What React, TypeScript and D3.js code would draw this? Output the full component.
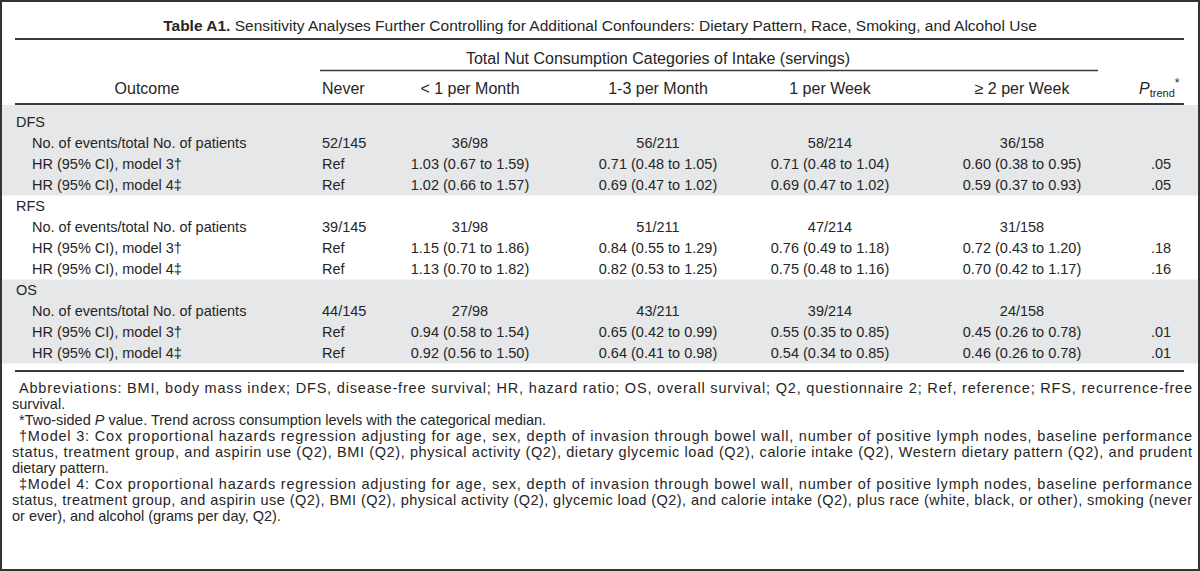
import React from "react";
import * as d3 from "d3";

const categories = ["Never", "< 1 per Month", "1-3 per Month", "1 per Week", "\u2265 2 per Week"];
const outcomes = ["DFS", "RFS", "OS"];
const rowLabels = ["No. of events/total No. of patients", "HR (95% CI), model 3\u2020", "HR (95% CI), model 4\u2021"];

const dfsEvents = ["52/145", "36/98", "56/211", "58/214", "36/158"];
const dfsModel3 = ["Ref", "1.03 (0.67 to 1.59)", "0.71 (0.48 to 1.05)", "0.71 (0.48 to 1.04)", "0.60 (0.38 to 0.95)"];
const dfsModel4 = ["Ref", "1.02 (0.66 to 1.57)", "0.69 (0.47 to 1.02)", "0.69 (0.47 to 1.02)", "0.59 (0.37 to 0.93)"];
const rfsEvents = ["39/145", "31/98", "51/211", "47/214", "31/158"];
const rfsModel3 = ["Ref", "1.15 (0.71 to 1.86)", "0.84 (0.55 to 1.29)", "0.76 (0.49 to 1.18)", "0.72 (0.43 to 1.20)"];
const rfsModel4 = ["Ref", "1.13 (0.70 to 1.82)", "0.82 (0.53 to 1.25)", "0.75 (0.48 to 1.16)", "0.70 (0.42 to 1.17)"];
const osEvents = ["44/145", "27/98", "43/211", "39/214", "24/158"];
const osModel3 = ["Ref", "0.94 (0.58 to 1.54)", "0.65 (0.42 to 0.99)", "0.55 (0.35 to 0.85)", "0.45 (0.26 to 0.78)"];
const osModel4 = ["Ref", "0.92 (0.56 to 1.50)", "0.64 (0.41 to 0.98)", "0.54 (0.34 to 0.85)", "0.46 (0.26 to 0.78)"];
const pTrendModel3 = [".05", ".18", ".01"];
const pTrendModel4 = [".05", ".16", ".01"];

const titleBold = "Table A1.";
const titleRest = " Sensitivity Analyses Further Controlling for Additional Confounders: Dietary Pattern, Race, Smoking, and Alcohol Use";
const spannerText = "Total Nut Consumption Categories of Intake (servings)";

const footnotes = [
  { text: "Abbreviations: BMI, body mass index; DFS, disease-free survival; HR, hazard ratio; OS, overall survival; Q2, questionnaire 2; Ref, reference; RFS, recurrence-free", indent: true, justify: true },
  { text: "survival.", indent: false, justify: false },
  { text: "*Two-sided |P| value. Trend across consumption levels with the categorical median.", indent: true, justify: false },
  { text: "\u2020Model 3: Cox proportional hazards regression adjusting for age, sex, depth of invasion through bowel wall, number of positive lymph nodes, baseline performance", indent: true, justify: true },
  { text: "status, treatment group, and aspirin use (Q2), BMI (Q2), physical activity (Q2), dietary glycemic load (Q2), calorie intake (Q2), Western dietary pattern (Q2), and prudent", indent: false, justify: true },
  { text: "dietary pattern.", indent: false, justify: false },
  { text: "\u2021Model 4: Cox proportional hazards regression adjusting for age, sex, depth of invasion through bowel wall, number of positive lymph nodes, baseline performance", indent: true, justify: true },
  { text: "status, treatment group, and aspirin use (Q2), BMI (Q2), physical activity (Q2), glycemic load (Q2), and calorie intake (Q2), plus race (white, black, or other), smoking (never", indent: false, justify: true },
  { text: "or ever), and alcohol (grams per day, Q2).", indent: false, justify: false },
];

const W = 1200;
const H = 571;
const FONT = "'Liberation Sans', Arial, Helvetica, sans-serif";
const FS = 14.5;
const HFS = 16;
const TEXT = "#262626";
const LINE = "#3a3a3a";
const GRAY = "#e6e7e8";

export default function App() {
  const groups = [
    { name: outcomes[0], rows: [dfsEvents, dfsModel3, dfsModel4], p: ["", pTrendModel3[0], pTrendModel4[0]], shaded: true },
    { name: outcomes[1], rows: [rfsEvents, rfsModel3, rfsModel4], p: ["", pTrendModel3[1], pTrendModel4[1]], shaded: false },
    { name: outcomes[2], rows: [osEvents, osModel3, osModel4], p: ["", pTrendModel3[2], pTrendModel4[2]], shaded: true },
  ];

  // column anchors (Never is left-aligned, the others centred)
  const colX = d3.scaleOrdinal<string, number>().domain(categories).range([322, 470, 658, 830, 1022]);
  const pX = 1161;
  const rowPitch = 21;
  const y = d3.scaleLinear().domain([0, 1]).range([122, 122 + rowPitch]);
  const fy = d3.scaleLinear().domain([0, 1]).range([388, 404]);

  const lineX0 = 15;
  const lineX1 = 1184;
  const thickY = 104;

  const rows: any[] = [];
  groups.forEach((g, gi) => {
    const base = gi * 4;
    rows.push(
      <text key={`g${gi}`} x={16} y={y(base) + 5} fontSize={FS} fill={TEXT}>{g.name}</text>
    );
    g.rows.forEach((vals, ri) => {
      const yy = y(base + 1 + ri) + 5;
      rows.push(<text key={`l${gi}${ri}`} x={32} y={yy} fontSize={FS} fill={TEXT}>{rowLabels[ri]}</text>);
      vals.forEach((v, ci) => {
        const first = ci === 0;
        rows.push(
          <text key={`v${gi}${ri}${ci}`} x={colX(categories[ci])} y={yy} fontSize={FS} fill={TEXT} textAnchor={first ? "start" : "middle"}>{v}</text>
        );
      });
      if (g.p[ri]) rows.push(<text key={`p${gi}${ri}`} x={pX} y={yy} fontSize={FS} fill={TEXT} textAnchor="middle">{g.p[ri]}</text>);
    });
  });

  const bands = groups.map((g, gi) => {
    if (!g.shaded) return null;
    const top = gi === 0 ? thickY + 1 : y(gi * 4) - rowPitch / 2;
    const bottom = y(gi * 4 + 3) + rowPitch / 2;
    return <rect key={`b${gi}`} x={2} y={top} width={W - 4} height={bottom - top} fill={GRAY} />;
  });

  return (
    <div style={{ position: "absolute", left: 0, top: 0 }}>
      <svg width={W} height={H} style={{ display: "block", fontFamily: FONT }}>
        <rect x={0} y={0} width={W} height={H} fill="#fff" />
        {bands}
        <text x={W / 2} y={31} fontSize={15.5} fill={TEXT} textAnchor="middle">
          <tspan fontWeight="bold">{titleBold}</tspan>
          <tspan>{titleRest}</tspan>
        </text>
        <line x1={lineX0} x2={lineX1} y1={39} y2={39} stroke={LINE} strokeWidth={2} />
        <text x={658} y={64} fontSize={HFS} fill={TEXT} textAnchor="middle">{spannerText}</text>
        <line x1={320} x2={1098} y1={70.5} y2={70.5} stroke={LINE} strokeWidth={1.3} />
        <text x={147} y={94} fontSize={HFS} fill={TEXT} textAnchor="middle">Outcome</text>
        {categories.map((c, i) => (
          <text key={c} x={colX(c)} y={94} fontSize={HFS} fill={TEXT} textAnchor={i === 0 ? "start" : "middle"}>{c}</text>
        ))}
        <text x={1139} y={94} fontSize={HFS} fill={TEXT}>
          <tspan fontStyle="italic">P</tspan>
          <tspan fontSize={11} dy={3}>trend</tspan>
          <tspan fontSize={12} dy={-10}>*</tspan>
        </text>
        <line x1={lineX0} x2={lineX1} y1={thickY} y2={thickY} stroke={LINE} strokeWidth={2} />
        {rows}
        <line x1={lineX0} x2={lineX1} y1={371} y2={371} stroke={LINE} strokeWidth={2} />
        {footnotes.map((f, i) => {
          const x0 = f.indent ? 19 : 12;
          const parts = f.text.split("|");
          return (
            <text key={`f${i}`} x={x0} y={fy(i) + 5} fontSize={FS} fill={TEXT}
              textLength={f.justify ? 1192 - x0 : undefined} lengthAdjust={f.justify ? "spacing" : undefined}>
              {parts.map((p, pi) => (
                <tspan key={pi} fontStyle={pi % 2 === 1 ? "italic" : "normal"}>{p}</tspan>
              ))}
            </text>
          );
        })}
        <rect x={1} y={1} width={W - 2} height={H - 2} fill="none" stroke="#333" strokeWidth={2} />
      </svg>
    </div>
  );
}
